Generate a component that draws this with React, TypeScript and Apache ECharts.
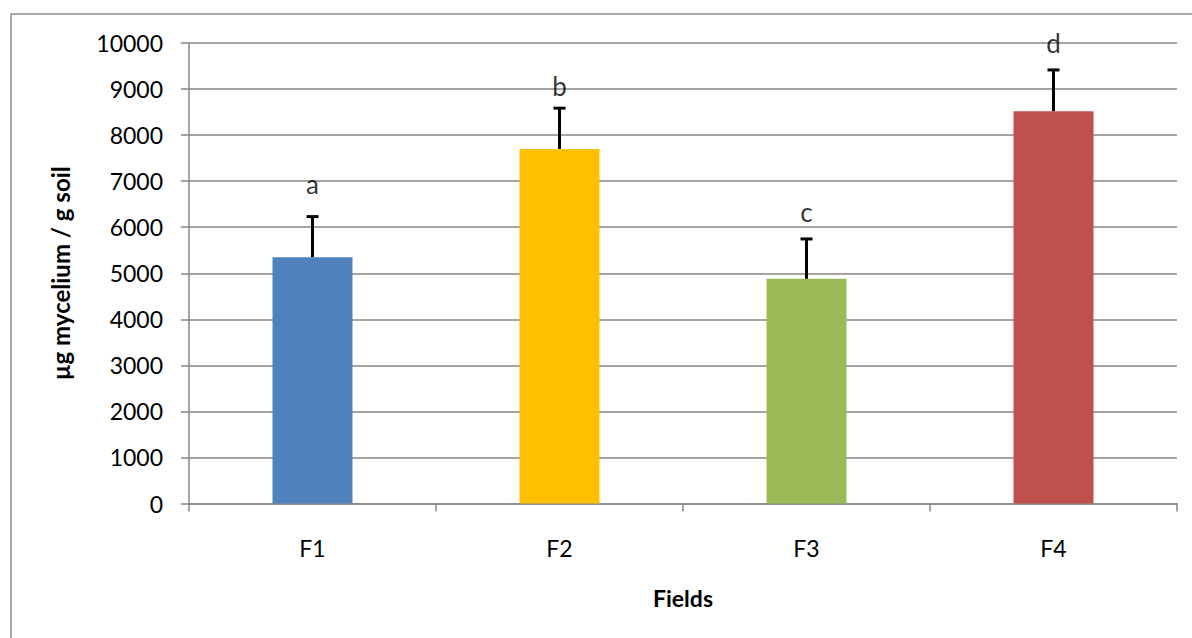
import React, { useEffect, useRef } from 'react';
import * as echarts from 'echarts';

const categories = ['F1', 'F2', 'F3', 'F4'];
const means = [5350, 7700, 4880, 8520];
const errors = [880, 885, 865, 895];
const letters = ['a', 'b', 'c', 'd'];
const letterValues = [6930, 9060, 6320, 9990];
const colors = ['#4F81BD', '#FFC000', '#9BBB59', '#C0504D'];

const FONT = 'Lato, "Noto Sans", sans-serif';
const GRAY = '#868686';

export default function App() {
  const ref = useRef<HTMLDivElement>(null);
  useEffect(() => {
    document.body.style.margin = '0';
    const chart = echarts.init(ref.current!, undefined, { renderer: 'svg' });
    chart.setOption({
      animation: false,
      backgroundColor: '#fff',
      textStyle: { fontFamily: FONT },
      graphic: [
        {
          type: 'rect',
          shape: { x: 11, y: 14, width: 1300, height: 800 },
          style: { fill: 'none', stroke: '#8c8c8c', lineWidth: 1.5 },
          silent: true,
          z: -1,
        },
      ],
      grid: { left: 189, right: 15, top: 43, bottom: 134.5, containLabel: false },
      xAxis: {
        type: 'category',
        data: categories,
        name: 'Fields',
        nameLocation: 'middle',
        nameGap: 83,
        nameTextStyle: { fontFamily: FONT, fontSize: 23, fontWeight: 'bold', color: '#000' },
        axisLine: { lineStyle: { color: GRAY, width: 1.5 } },
        axisTick: { show: true, length: 8, lineStyle: { color: GRAY, width: 1.5 } },
        axisLabel: { fontFamily: FONT, fontSize: 23, color: '#000', margin: 33 },
        splitLine: { show: false },
      },
      yAxis: {
        type: 'value',
        min: 0,
        max: 10000,
        interval: 1000,
        name: 'µg mycelium / g soil',
        nameLocation: 'middle',
        nameGap: 117,
        nameRotate: 90,
        nameTextStyle: { fontFamily: FONT, fontSize: 24, fontWeight: 'bold', color: '#000' },
        axisLine: { show: true, lineStyle: { color: GRAY, width: 1.5 } },
        axisTick: { show: true, length: 8, lineStyle: { color: GRAY, width: 1.5 } },
        axisLabel: {
          fontFamily: FONT,
          fontSize: 23,
          color: '#000',
          margin: 26,
          formatter: (v: number) => String(v),
        },
        splitLine: { show: true, lineStyle: { color: GRAY, width: 1.5 } },
      },
      series: [
        {
          type: 'bar',
          barWidth: 80,
          data: means.map((v, i) => ({ value: v, itemStyle: { color: colors[i] } })),
          z: 2,
        },
        {
          type: 'custom',
          z: 5,
          data: means.map((m, i) => [i, m, errors[i]]),
          renderItem: (params: any, api: any) => {
            const x = api.value(0);
            const m = api.value(1);
            const e = api.value(2);
            const base = api.coord([x, m]);
            const top = api.coord([x, m + e]);
            return {
              type: 'group',
              children: [
                {
                  type: 'line',
                  shape: { x1: base[0], y1: base[1], x2: top[0], y2: top[1] },
                  style: { stroke: '#000', lineWidth: 3 },
                },
                {
                  type: 'line',
                  shape: { x1: top[0] - 6, y1: top[1], x2: top[0] + 6, y2: top[1] },
                  style: { stroke: '#000', lineWidth: 3 },
                },
              ],
            };
          },
        },
        {
          type: 'scatter',
          symbolSize: 0,
          z: 6,
          data: letterValues.map((v, i) => ({ value: [i, v], name: letters[i] })),
          label: {
            show: true,
            position: 'inside',
            formatter: (p: any) => p.name,
            fontFamily: FONT,
            fontSize: 26,
            color: '#000',
          },
        },
      ],
    });
    return () => chart.dispose();
  }, []);
  return (
    <div
      ref={ref}
      style={{ position: 'absolute', left: 0, top: 0, width: 1192, height: 638 }}
    />
  );
}
